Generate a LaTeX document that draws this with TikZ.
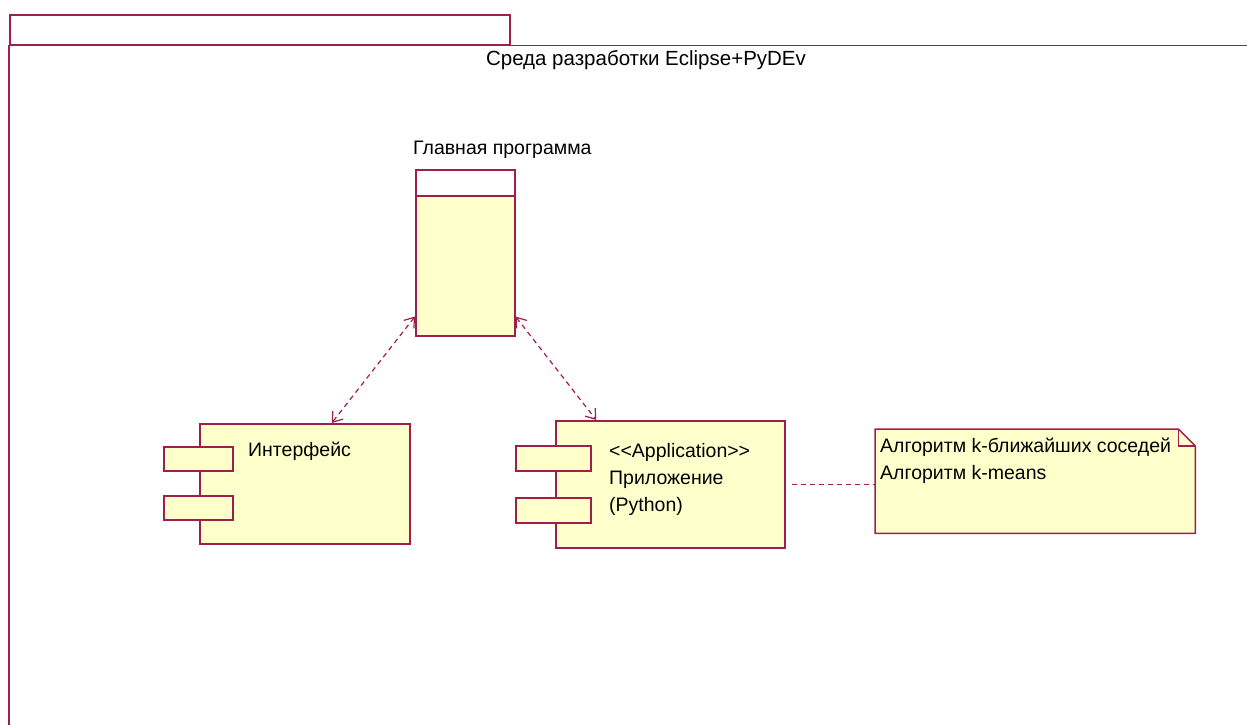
\documentclass[tikz,border=0pt]{standalone}
\usepackage{fontspec}
\setmainfont{Liberation Sans}
\usetikzlibrary{arrows.meta,calc}
\definecolor{umlline}{RGB}{160,30,75}
\definecolor{umlfill}{RGB}{255,255,204}
\tikzset{
  box/.style={draw=umlline, line width=1.5pt, fill=umlfill, rectangle, inner sep=0pt},
  port/.style={box, minimum width=69pt, minimum height=24pt},
  lbl/.style={font=\fontsize{19.5}{27}\selectfont, inner sep=0pt, align=left, text=black},
  dep/.style={draw=umlline, line width=1.2pt, dash pattern=on 5pt off 4pt,
    {Straight Barb[length=9pt,width=13pt,line width=1.2pt]}-{Straight Barb[length=9pt,width=13pt,line width=1.2pt]}},
  link/.style={draw=umlline, line width=1.2pt, dash pattern=on 5pt off 4pt},
}
\begin{document}
\begin{tikzpicture}[x=1pt,y=-1pt]
\useasboundingbox (0,0) rectangle (1247,724);

% package frame with its tab
\node[draw=umlline, line width=1.5pt, minimum width=500pt, minimum height=30pt, inner sep=0pt, anchor=north west] (tab) at (9,14) {};
\coordinate (frameend) at (1260,44);
\coordinate (framebottom) at (9,740);
\draw[umlline, line width=1.8pt] (tab.south west -| frameend) -- (tab.south west) -- (tab.south west |- framebottom);
\node[lbl, font=\fontsize{20.5}{27}\selectfont] (title) at (646,60) {Среда разработки Eclipse+PyDEv};

% main program
\node[box, minimum width=99pt, minimum height=166pt, anchor=north west] (main) at (415,169) {};
\node[draw=umlline, line width=1.5pt, fill=white, minimum width=99pt, minimum height=26pt, inner sep=0pt, anchor=north west] (mainhead) at (main.north west) {};
\node[lbl, anchor=west] (maintitle) at (413,150) {Главная программа};

% interface component
\node[box, minimum width=210pt, minimum height=120pt, anchor=north west] (iface) at (199,423) {};
\node[port, anchor=north west] (ifp1) at (163,446) {};
\node[port, anchor=north west] (ifp2) at (163,495) {};
\node[lbl, anchor=west] (ifacetext) at (248,451) {Интерфейс};

% application component
\node[box, minimum width=229pt, minimum height=127pt, anchor=north west] (app) at (555,420) {};
\node[port, minimum width=75pt, minimum height=25pt, anchor=north west] (app1) at (515,445) {};
\node[port, minimum width=75pt, minimum height=25pt, anchor=north west] (app2) at (515,497) {};
\node[lbl, anchor=north west] (apptext) at (609,443) {{<}{<}Application{>}{>}\\Приложение\\(Python)};

% note
\node[minimum width=320pt, minimum height=104pt, inner sep=0pt, anchor=north west] (note) at (875,429) {};
\draw[umlline, line width=1.5pt, fill=umlfill]
  (note.north west) -- ([xshift=-17pt]note.north east) -- ([yshift=-17pt]note.north east)
  -- (note.south east) -- (note.south west) -- cycle;
\draw[umlline, line width=1.5pt]
  ([xshift=-17pt]note.north east) -- ([xshift=-17pt,yshift=-17pt]note.north east) -- ([yshift=-17pt]note.north east);
\node[lbl, anchor=north west] (notetext) at (880,438) {Алгоритм k-ближайших соседей\\Алгоритм k-means};

% connectors
\draw[dep] ([yshift=20pt]main.south west) -- ([xshift=27pt]iface.north);
\draw[dep] ([yshift=20pt]main.south east) -- ([xshift=-74pt]app.north);
\draw[link] ([xshift=6pt]app.east) -- (app.east -| note.west);
\end{tikzpicture}
\end{document}
